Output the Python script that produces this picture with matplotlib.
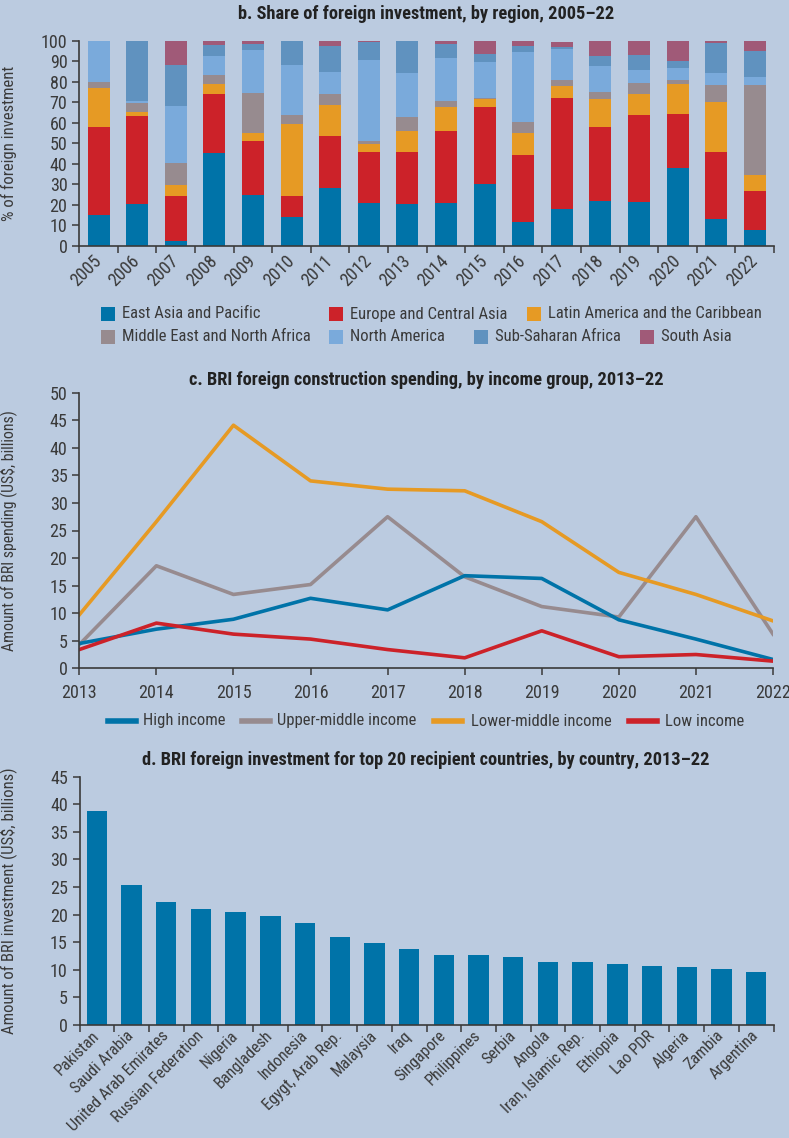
import matplotlib
matplotlib.use("Agg")
import matplotlib.pyplot as plt
from matplotlib import font_manager as fm
from matplotlib.patches import Rectangle
from matplotlib.lines import Line2D
import numpy as np

# ---------------- data ----------------
years_b = ["2005", "2006", "2007", "2008", "2009", "2010", "2011", "2012", "2013",
           "2014", "2015", "2016", "2017", "2018", "2019", "2020", "2021", "2022"]
region_names = ["East Asia and Pacific", "Europe and Central Asia",
                "Latin America and the Caribbean", "Middle East and North Africa",
                "North America", "Sub-Saharan Africa", "South Asia"]
eap = [15, 20.6, 2.4, 45.3, 24.8, 14.1, 28.4, 20.9, 20.6, 20.9, 30.4, 11.9, 18.0, 21.9, 21.4, 38.1, 13.1, 8.0]
eca = [43, 42.7, 22.0, 28.9, 26.3, 10.4, 25.2, 24.9, 25.2, 35.1, 37.3, 32.4, 54.1, 36.1, 42.4, 26.2, 32.7, 18.8]
lac = [19, 2.0, 5.3, 4.9, 3.9, 34.9, 15.1, 3.9, 10.2, 11.7, 3.9, 10.7, 5.8, 13.6, 10.2, 14.6, 24.3, 7.8]
mena = [3, 4.3, 10.7, 4.2, 19.5, 4.4, 5.3, 1.4, 6.8, 2.9, 0.5, 5.4, 2.9, 3.4, 5.4, 1.9, 8.3, 43.8]
nam = [20, 1.2, 27.8, 9.2, 21.0, 24.3, 10.7, 39.5, 21.5, 21.0, 17.5, 34.1, 15.1, 12.7, 6.3, 5.9, 5.9, 3.9]
ssa = [0, 29.2, 19.9, 5.6, 2.9, 11.9, 12.7, 8.8, 15.4, 6.8, 3.9, 2.9, 1.0, 4.8, 7.3, 3.4, 14.6, 12.7]
sas = [0, 0, 11.9, 1.9, 1.6, 0, 2.4, 0.6, 0.3, 1.6, 6.5, 2.6, 2.6, 7.5, 7.0, 9.9, 1.1, 5.0]

years_c = [2013, 2014, 2015, 2016, 2017, 2018, 2019, 2020, 2021, 2022]
income_names = ["High income", "Upper-middle income", "Lower-middle income", "Low income"]
high_inc = [4.5, 7.1, 8.9, 12.7, 10.6, 16.8, 16.3, 8.8, 5.3, 1.6]
upper_mid = [4.3, 18.6, 13.4, 15.2, 27.5, 16.6, 11.2, 9.3, 27.5, 6.2]
lower_mid = [9.7, 26.6, 44.1, 34.0, 32.5, 32.2, 26.6, 17.4, 13.4, 8.6]
low_inc = [3.4, 8.2, 6.2, 5.3, 3.4, 1.9, 6.8, 2.1, 2.5, 1.3]

countries = ["Pakistan", "Saudi Arabia", "United Arab Emirates", "Russian Federation",
             "Nigeria", "Bangladesh", "Indonesia", "Egygt, Arab Rep.", "Malaysia", "Iraq",
             "Singapore", "Philippines", "Serbia", "Angola", "Iran, Islamic Rep.",
             "Ethiopia", "Lao PDR", "Algeria", "Zambia", "Argentina"]
invest = [38.8, 25.4, 22.3, 21.0, 20.5, 19.8, 18.5, 15.9, 14.9, 13.8,
          12.7, 12.7, 12.3, 11.4, 11.4, 11.1, 10.7, 10.5, 10.1, 9.6]

# ---------------- fonts ----------------
avail = {f.name for f in fm.fontManager.ttflist}
cond_cands = ["Liberation Sans Narrow", "Roboto Condensed", "Arial Narrow",
              "Open Sans Condensed", "Nimbus Sans Narrow", "Noto Sans Condensed"]
cond = next((c for c in cond_cands if c in avail), None)
if cond is not None:
    plt.rcParams['font.family'] = [cond, 'DejaVu Sans']
    K = 1.0
else:
    base = "Roboto" if "Roboto" in avail else "Liberation Sans"
    plt.rcParams['font.family'] = [base, 'DejaVu Sans']
    K = 0.86

FS = 13.0 * K        # tick labels
LFS = 12.0 * K       # legends
TFS = 13.2 * K       # titles
YFS = 12.0 * K       # y labels

# ---------------- style ----------------
BG = "#BBCBE0"
TXT = "#3a3a3a"
C_EAP = "#0073A8"
C_ECA = "#CC2229"
C_LAC = "#E69A24"
C_MENA = "#978B8F"
C_NA = "#7AAADB"
C_SSA = "#6092BF"
C_SA = "#A05A78"
region_colors = [C_EAP, C_ECA, C_LAC, C_MENA, C_NA, C_SSA, C_SA]

W, H = 789, 1138
fig = plt.figure(figsize=(W / 100, H / 100), dpi=100, facecolor=BG)

def axes_px(l, r, t, b):
    return fig.add_axes([l / W, 1 - b / H, (r - l) / W, (b - t) / H])

def style(ax):
    ax.set_facecolor(BG)
    for s in ["top", "right"]:
        ax.spines[s].set_visible(False)
    for s in ["left", "bottom"]:
        ax.spines[s].set_color(TXT)
        ax.spines[s].set_linewidth(1.2)
    ax.tick_params(colors=TXT, labelcolor=TXT, labelsize=FS, direction="out",
                   length=5, width=1.1)

# ---------------- panel b ----------------
axb = axes_px(79.3, 774, 40.7, 246)
style(axb)
xb = np.arange(len(years_b))
series_b = [eap, eca, lac, mena, nam, ssa, sas]
bottom = np.zeros(len(years_b))
for vals, col in zip(series_b, region_colors):
    axb.bar(xb, vals, bottom=bottom, width=0.57, color=col, linewidth=0)
    bottom += np.array(vals)
axb.set_xlim(-0.5, len(years_b) - 0.5)
axb.set_ylim(0, 100)
axb.set_yticks(np.arange(0, 101, 10))
axb.set_xticks(np.arange(-0.5, len(years_b) + 0.5, 1))
axb.set_xticklabels([])
axb.set_xticks(xb, minor=True)
axb.set_xticklabels(years_b, minor=True, rotation=45, ha="right", va="center",
                    rotation_mode="anchor", fontsize=FS, color=TXT)
axb.tick_params(axis="x", which="minor", length=0, pad=9)
axb.set_ylabel("% of foreign investment", fontsize=YFS, color=TXT)
axb.yaxis.set_label_coords((17 - 79.3) / (774 - 79.3), 0.5)
fig.text(426 / W, 1 - 14 / H, "b. Share of foreign investment, by region, 2005–22",
         ha="center", va="center", fontsize=TFS, fontweight="bold", color="#222222")

# legend b (manual placement)
leg_pos = [(100.6, 314), (328.6, 314), (527, 314),
           (100.6, 337), (328.6, 337), (474, 337), (640, 337)]
for (px, py), name, col in zip(leg_pos, region_names, region_colors):
    fig.patches.append(Rectangle((px / W, 1 - (py + 7) / H), 14 / W, 14 / H,
                                 transform=fig.transFigure, facecolor=col,
                                 edgecolor="none"))
    fig.text((px + 21) / W, 1 - py / H, name, ha="left", va="center",
             fontsize=LFS, color=TXT)

# ---------------- panel c ----------------
axc = axes_px(79.3, 773, 392.7, 668.3)
style(axc)
lw = 2.6
ln_up, = axc.plot(years_c, upper_mid, color=C_MENA, lw=lw)
ln_lo, = axc.plot(years_c, lower_mid, color=C_LAC, lw=lw)
ln_hi, = axc.plot(years_c, high_inc, color=C_EAP, lw=lw)
ln_low, = axc.plot(years_c, low_inc, color=C_ECA, lw=lw)
axc.set_xlim(2013, 2022)
axc.set_ylim(0, 50)
axc.set_xticks(years_c)
axc.set_yticks(np.arange(0, 51, 5))
axc.tick_params(axis="x", pad=6)
axc.set_ylabel("Amount of BRI spending (US$, billions)", fontsize=YFS * 0.95, color=TXT)
axc.yaxis.set_label_coords((17 - 79.3) / (773 - 79.3), 0.5)
fig.text(426 / W, 1 - 380 / H, "c. BRI foreign construction spending, by income group, 2013–22",
         ha="center", va="center", fontsize=TFS, fontweight="bold", color="#222222")

# legend c (manual placement)
leg_c = [(108, 143), (242, 277), (434, 471), (629, 665)]
for (hx, tx), name, ln in zip(leg_c, income_names, [ln_hi, ln_up, ln_lo, ln_low]):
    fig.lines.append(Line2D([hx / W, (hx + 28) / W], [1 - 721 / H, 1 - 721 / H],
                            transform=fig.transFigure, color=ln.get_color(), lw=4))
    fig.text(tx / W, 1 - 721 / H, name, ha="left", va="center", fontsize=LFS, color=TXT)

# ---------------- panel d ----------------
axd = axes_px(79.5, 773.5, 776.7, 1025)
style(axd)
xd = np.arange(len(countries))
axd.bar(xd, invest, width=0.59, color=C_EAP, linewidth=0)
axd.set_xlim(-0.5, len(countries) - 0.5)
axd.set_ylim(0, 45)
axd.set_yticks(np.arange(0, 46, 5))
axd.set_xticks(np.arange(-0.5, len(countries) + 0.5, 1))
axd.set_xticklabels([])
axd.set_xticks(xd, minor=True)
axd.set_xticklabels(countries, minor=True, rotation=45, ha="right", va="center",
                    rotation_mode="anchor", fontsize=FS * 0.9, color=TXT)
axd.tick_params(axis="x", which="minor", length=0, pad=6)
axd.set_ylabel("Amount of BRI investment (US$, billions)", fontsize=YFS, color=TXT)
axd.yaxis.set_label_coords((17 - 79.5) / (773.5 - 79.5), 0.5)
fig.text(426 / W, 1 - 760 / H,
         "d. BRI foreign investment for top 20 recipient countries, by country, 2013–22",
         ha="center", va="center", fontsize=TFS, fontweight="bold", color="#222222")

fig.savefig("out.png", dpi=100, facecolor=BG)
